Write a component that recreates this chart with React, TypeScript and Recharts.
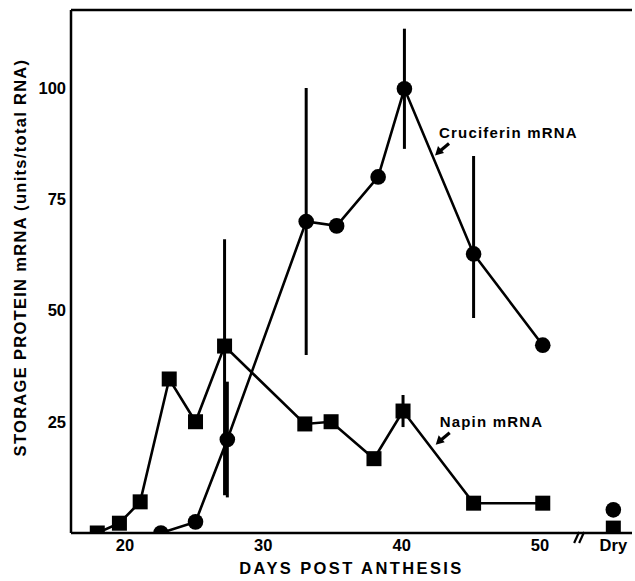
import React from 'react';
import { ComposedChart, Line, XAxis, YAxis, ErrorBar, ReferenceDot, ReferenceLine, Label } from 'recharts';

// Napin mRNA
const napinDays = [18, 19.6, 21.1, 23.2, 25.1, 27.2, 33.0, 34.9, 38.0, 40.1, 45.2, 50.2];
const napinValues = [0, 2.2, 7, 34.6, 25, 42, 24.5, 25, 16.7, 27.4, 6.7, 6.7];
const napinErrors: (number | [number, number] | null)[] = [null, null, null, null, null, [33.5, 24], null, null, null, 3.6, null, null];

// Cruciferin mRNA
const crucDays = [22.6, 25.1, 27.4, 33.1, 35.3, 38.3, 40.2, 45.2, 50.2];
const crucValues = [0, 2.5, 21, 70, 69, 80, 99.8, 62.7, 42.2];
const crucErrors: (number | [number, number] | null)[] = [null, null, 13, 30, null, null, 13.5, [14.4, 22], null];

// Dry seed
const DRY_X = 55.3;
const dryCruciferin = 5.2;
const dryNapin = 1.1;

const xTicks = [20, 30, 40, 50, DRY_X];
const yTicks = [25, 50, 75, 100];
const X_DOMAIN: [number, number] = [16.1, 56.65];
const Y_DOMAIN: [number, number] = [0, 117.5];

const napinData = napinDays.map((x, i) => ({ x, y: napinValues[i], e: napinErrors[i] }));
const crucData = crucDays.map((x, i) => ({ x, y: crucValues[i], e: crucErrors[i] }));
const dryCrucData = [{ x: DRY_X, y: dryCruciferin }];
const dryNapinData = [{ x: DRY_X, y: dryNapin }];

const FONT = '"Liberation Sans", Arial, sans-serif';

const CircleDot = (p: any) => {
  if (p.cx == null || p.cy == null) return <g key={p.key} />;
  return <circle key={p.key} cx={p.cx} cy={p.cy} r={7.8} fill="#000" stroke="none" />;
};
const SquareDot = (p: any) => {
  if (p.cx == null || p.cy == null) return <g key={p.key} />;
  return <rect key={p.key} x={p.cx - 7.5} y={p.cy - 7.5} width={15} height={15} fill="#000" stroke="none" />;
};

const Annotation = (text: string) => (p: any) => {
  const { cx, cy } = p;
  return (
    <g>
      <text x={cx} y={cy} dominantBaseline="central" fontFamily={FONT} fontWeight="bold" fontSize={15} fill="#000" letterSpacing={1.2}>
        {text}
      </text>
      <line x1={cx + 10} y1={cy + 11} x2={cx + 1} y2={cy + 18.5} stroke="#000" strokeWidth={3.2} />
      <polygon points={`${cx - 4},${cy + 23} ${cx - 1},${cy + 13.5} ${cx + 5},${cy + 20.5}`} fill="#000" />
    </g>
  );
};

const BreakMark = (p: any) => {
  const { cx, cy } = p;
  return (
    <g>
      <line x1={cx - 6} y1={cy + 10} x2={cx - 1} y2={cy - 1} stroke="#000" strokeWidth={2.2} />
      <line x1={cx - 1} y1={cy + 10} x2={cx + 4} y2={cy - 1} stroke="#000" strokeWidth={2.2} />
    </g>
  );
};

export default function App() {
  return (
    <div style={{ position: 'absolute', left: 0, top: 0, background: '#fff' }}>
      <ComposedChart width={635} height={581} margin={{ top: 10, right: 3, bottom: 0, left: 0 }}>
        <XAxis
          type="number"
          dataKey="x"
          domain={X_DOMAIN}
          ticks={xTicks}
          allowDataOverflow
          tickFormatter={(v: number) => (v === DRY_X ? 'Dry' : String(v))}
          axisLine={{ stroke: '#000', strokeWidth: 2.5 }}
          tickLine={false}
          tickSize={0}
          tickMargin={6}
          height={48}
          tick={{ fill: '#000', fontSize: 16.5, fontWeight: 'bold', fontFamily: FONT }}
        >
          <Label
            content={(props: any) => {
              const vb = props.viewBox;
              return (
                <text x={vb.x + vb.width / 2} y={vb.y + 41} textAnchor="middle" fontFamily={FONT} fontWeight="bold" fontSize={16.5} letterSpacing={2.4} fill="#000">
                  DAYS POST ANTHESIS
                </text>
              );
            }}
          />
        </XAxis>
        <YAxis
          type="number"
          domain={Y_DOMAIN}
          ticks={yTicks}
          allowDataOverflow
          width={71}
          axisLine={{ stroke: '#000', strokeWidth: 2.5 }}
          tickLine={false}
          tickSize={0}
          tickMargin={5}
          tick={{ fill: '#000', fontSize: 16.5, fontWeight: 'bold', fontFamily: FONT }}
        >
          <Label
            content={(props: any) => {
              const vb = props.viewBox;
              const cx = vb.x + 20;
              const cy = vb.y + vb.height / 2 - 14;
              return (
                <text x={cx} y={cy} transform={`rotate(-90, ${cx}, ${cy})`} textAnchor="middle" dominantBaseline="central" fontFamily={FONT} fontWeight="bold" fontSize={16.5} letterSpacing={1.3} fill="#000">
                  STORAGE PROTEIN mRNA (units/total RNA)
                </text>
              );
            }}
          />
        </YAxis>
        <ReferenceLine y={Y_DOMAIN[1]} stroke="#000" strokeWidth={2.5} ifOverflow="visible" />

        <Line data={napinData} dataKey="y" type="linear" stroke="#000" strokeWidth={2.6} dot={SquareDot} activeDot={false} isAnimationActive={false}>
          <ErrorBar dataKey="e" width={0} stroke="#000" strokeWidth={3} direction="y" />
        </Line>
        <Line data={crucData} dataKey="y" type="linear" stroke="#000" strokeWidth={2.6} dot={CircleDot} activeDot={false} isAnimationActive={false}>
          <ErrorBar dataKey="e" width={0} stroke="#000" strokeWidth={3} direction="y" />
        </Line>
        <Line data={dryCrucData} dataKey="y" stroke="none" dot={CircleDot} activeDot={false} isAnimationActive={false} />
        <Line data={dryNapinData} dataKey="y" stroke="none" dot={SquareDot} activeDot={false} isAnimationActive={false} />

        <ReferenceDot x={42.7} y={90} r={0} ifOverflow="visible" shape={Annotation('Cruciferin mRNA')} />
        <ReferenceDot x={42.75} y={25} r={0} ifOverflow="visible" shape={Annotation('Napin mRNA')} />
        <ReferenceDot x={52.9} y={0} r={0} ifOverflow="visible" shape={BreakMark} />
      </ComposedChart>
    </div>
  );
}
